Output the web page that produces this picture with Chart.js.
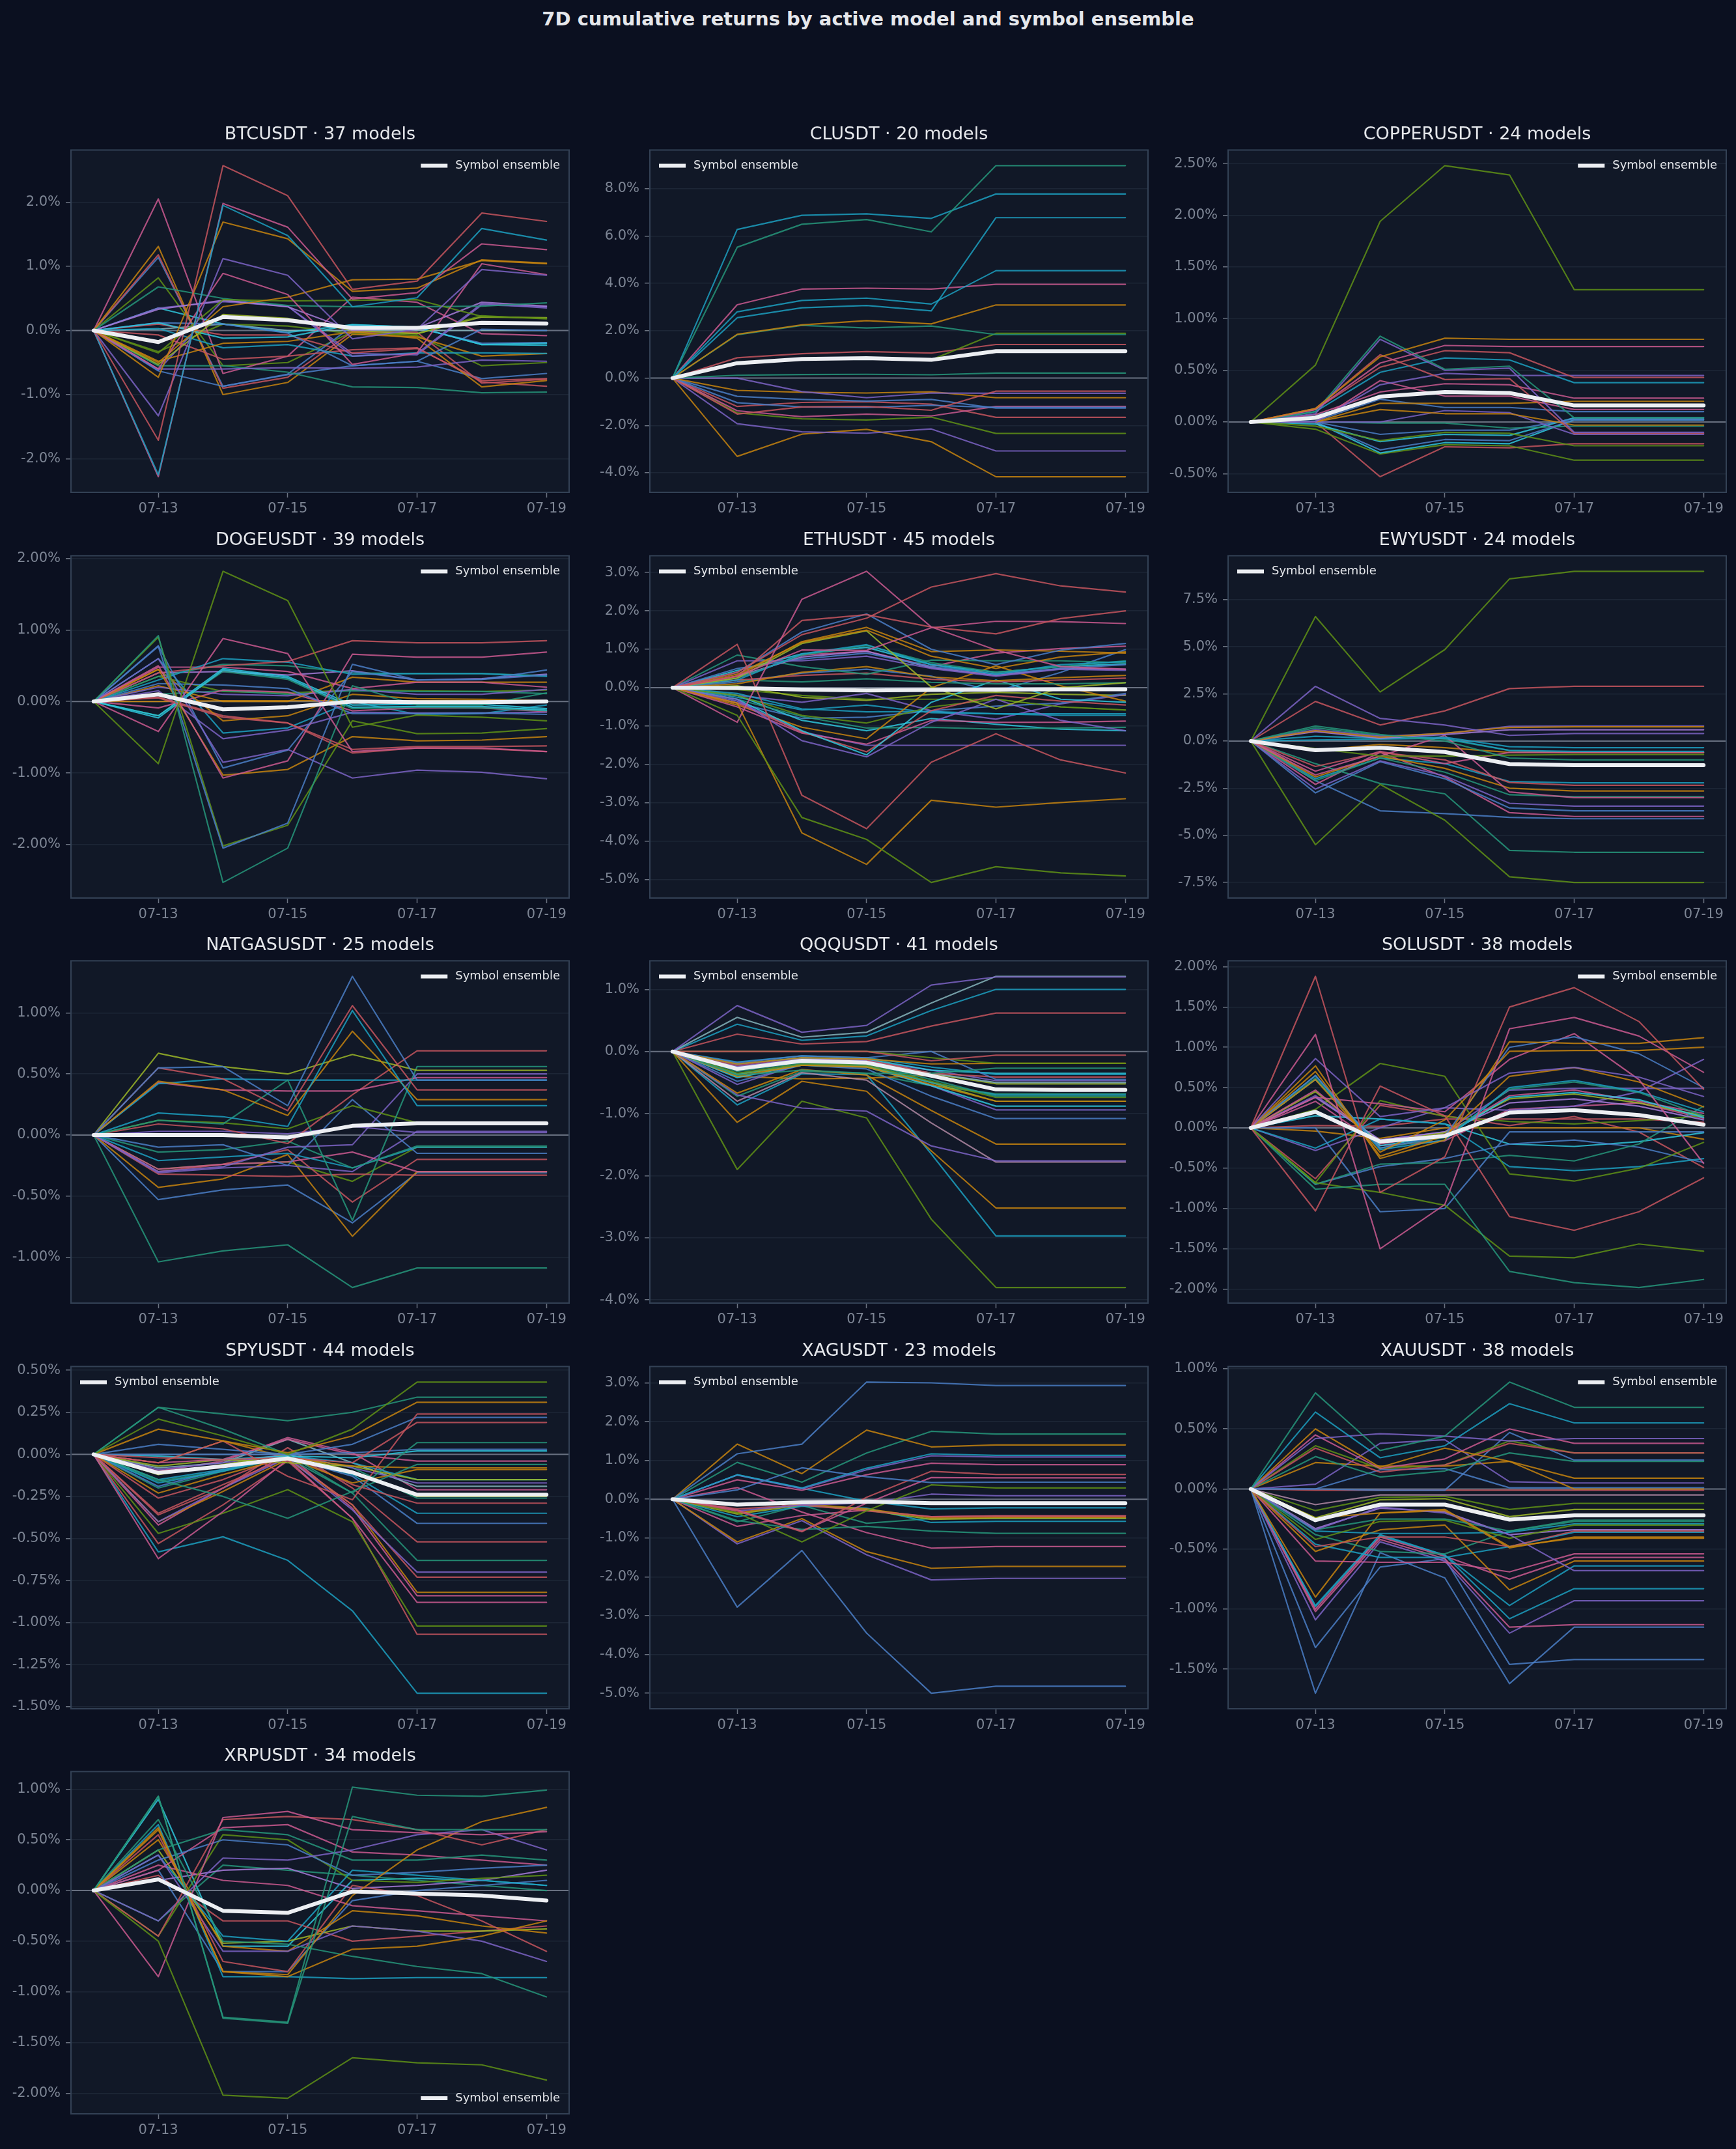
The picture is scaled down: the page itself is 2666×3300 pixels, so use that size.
<!DOCTYPE html>
<html>
<head>
<meta charset="utf-8">
<script src="https://cdn.jsdelivr.net/npm/chart.js@4.4.1/dist/chart.umd.min.js"></script>
<style>
  body { margin: 0; background: #0b1020; width: 2666px; height: 3300px; position: relative; overflow: hidden; }
  #suptitle { position: absolute; top: 12px; left: 0; width: 2666px; text-align: center; color: #e5e7eb;
              font: bold 29px 'DejaVu Sans', sans-serif; line-height: 34px; }
  .panel { position: absolute; width: 885px; height: 647px; }
</style>
</head>
<body>
<div id="suptitle">7D cumulative returns by active model and symbol ensemble</div>
<script>
// ---- data (cumulative return, %) ----
const dates = ['07-12', '07-13', '07-14', '07-15', '07-16', '07-17', '07-18', '07-19'];
const xTickDays = ['07-13', '07-15', '07-17', '07-19'];

const symbols = ['BTCUSDT', 'CLUSDT', 'COPPERUSDT', 'DOGEUSDT', 'ETHUSDT', 'EWYUSDT', 'NATGASUSDT',
                 'QQQUSDT', 'SOLUSDT', 'SPYUSDT', 'XAGUSDT', 'XAUUSDT', 'XRPUSDT'];
const modelCounts = [37, 20, 24, 39, 45, 24, 25, 41, 38, 44, 23, 38, 34];

const btcEnsemble = [0, -0.18, 0.21, 0.16, 0.04, 0.04, 0.12, 0.11];
const btcModels = [
  [0, -1.71, 2.57, 2.10, 0.64, 0.77, 1.83, 1.70],
  [0, -2.25, 1.95, 1.48, 0.37, 0.51, 1.59, 1.41],
  [0, -2.28, 1.98, 1.61, 0.49, 0.59, 1.35, 1.26],
  [0, -0.73, 1.69, 1.43, 0.61, 0.66, 1.10, 1.05],
  [0, -1.33, 1.12, 0.86, -0.13, 0.02, 0.95, 0.86],
  [0, -0.60, 0.89, 0.56, -0.53, -0.35, 1.04, 0.87],
  [0, -0.50, 0.37, 0.52, 0.79, 0.80, 1.09, 1.04],
  [0, -0.35, 0.48, 0.46, 0.47, 0.48, 0.22, 0.19],
  [0, 0.68, 0.50, 0.39, 0.37, 0.37, 0.38, 0.43],
  [0, 0.33, 0.47, 0.37, 0.00, 0.04, 0.44, 0.38],
  [0, 0.35, 0.45, 0.38, -0.40, -0.36, 0.42, 0.35],
  [0, -0.53, 0.25, 0.19, 0.00, -0.05, 0.21, 0.20],
  [0, 0.12, -0.12, -0.10, 0.09, 0.05, -0.22, -0.20],
  [0, 0.12, 0.10, -0.04, -0.55, -0.48, 0.02, 0.00],
  [0, 0.10, -0.07, -0.07, -0.35, -0.28, -0.78, -0.75],
  [0, -0.48, -0.20, -0.17, -0.02, -0.12, -0.88, -0.78],
  [0, 0.03, -0.27, -0.22, -0.40, -0.35, -0.35, -0.36],
  [0, -0.60, -0.60, -0.58, -0.59, -0.57, -0.46, -0.48],
  [0, -0.55, -0.55, -0.65, -0.88, -0.89, -0.97, -0.96],
  [0, -0.63, -0.87, -0.69, -0.55, -0.48, -0.75, -0.67],
  [0, -0.07, -0.45, -0.40, -0.30, -0.27, -0.80, -0.87],
  [0, 1.31, -1.00, -0.81, -0.06, -0.10, -0.40, -0.36],
  [0, 1.18, -0.90, -0.73, -0.02, -0.03, -0.82, -0.76],
  [0, 1.14, -0.87, -0.68, 0.07, 0.04, -0.20, -0.19],
  [0, 2.05, -0.67, -0.40, 0.52, 0.44, -0.05, -0.08],
  [0, 0.82, -0.55, -0.50, -0.02, -0.08, -0.55, -0.50],
  [0, 0.35, 0.10, -0.03, 0.09, 0.05, -0.22, -0.23],
  [0, 0.02, 0.10, 0.00, 0.00, 0.00, 0.00, 0.00],
  [0, -0.62, 0.47, 0.38, -0.36, -0.38, 0.40, 0.37],
  [0, -0.33, 0.10, 0.07, -0.05, -0.05, 0.23, 0.18]
];
const btcTicks = ['-2.0%', '-1.0%', '0.0%', '1.0%', '2.0%'];

const clEnsemble = [0, 0.63, 0.81, 0.84, 0.77, 1.14, 1.14, 1.14];
const clModels = [
  [0, 5.53, 6.50, 6.70, 6.18, 8.98, 8.98, 8.98],
  [0, 6.28, 6.88, 6.94, 6.75, 7.78, 7.78, 7.78],
  [0, 2.55, 2.97, 3.07, 2.84, 6.78, 6.78, 6.78],
  [0, 2.80, 3.28, 3.38, 3.13, 4.54, 4.54, 4.54],
  [0, 3.10, 3.76, 3.80, 3.76, 3.96, 3.96, 3.96],
  [0, 1.85, 2.25, 2.43, 2.29, 3.09, 3.09, 3.09],
  [0, 1.83, 2.23, 2.12, 2.20, 1.84, 1.84, 1.84],
  [0, 0.60, 0.78, 0.82, 0.77, 1.89, 1.89, 1.89],
  [0, 0.86, 1.03, 1.12, 1.06, 1.42, 1.42, 1.42],
  [0, 0.12, 0.15, 0.16, 0.14, 0.21, 0.21, 0.21],
  [0, -1.52, -1.22, -1.20, -1.36, -0.55, -0.55, -0.55],
  [0, 0.00, -0.57, -0.83, -0.63, -0.64, -0.64, -0.64],
  [0, -0.52, -0.60, -0.63, -0.58, -0.83, -0.83, -0.83],
  [0, -0.77, -0.90, -0.97, -0.90, -1.27, -1.27, -1.27],
  [0, -1.04, -1.22, -1.24, -1.15, -1.24, -1.24, -1.24],
  [0, -1.38, -1.63, -1.52, -1.60, -1.20, -1.20, -1.20],
  [0, -1.20, -1.03, -1.00, -1.10, -1.66, -1.66, -1.66],
  [0, -1.47, -1.72, -1.77, -1.65, -2.34, -2.34, -2.34],
  [0, -1.93, -2.27, -2.33, -2.15, -3.08, -3.08, -3.08],
  [0, -3.31, -2.37, -2.17, -2.69, -4.17, -4.17, -4.17]
];
const clTicks = ['-4.0%', '-2.0%', '0.0%', '2.0%', '4.0%', '6.0%', '8.0%'];

const copperEnsemble = [0, 0.04, 0.245, 0.29, 0.28, 0.16, 0.16, 0.16];
const copperModels = [
  [0, 0.55, 1.94, 2.48, 2.39, 1.28, 1.28, 1.28],
  [0, 0.13, 0.63, 0.81, 0.80, 0.80, 0.80, 0.80],
  [0, 0.12, 0.57, 0.74, 0.73, 0.73, 0.73, 0.73],
  [0, 0.10, 0.83, 0.51, 0.54, 0.04, 0.04, 0.04],
  [0, 0.08, 0.80, 0.50, 0.52, -0.10, -0.10, -0.10],
  [0, 0.13, 0.65, 0.41, 0.42, -0.11, -0.11, -0.11],
  [0, 0.12, 0.53, 0.69, 0.67, 0.43, 0.43, 0.43],
  [0, 0.10, 0.48, 0.62, 0.60, 0.38, 0.38, 0.38],
  [0, 0.00, 0.36, 0.47, 0.45, 0.45, 0.45, 0.45],
  [0, 0.07, 0.29, 0.37, 0.36, 0.23, 0.23, 0.23],
  [0, 0.00, 0.40, 0.25, 0.25, 0.12, 0.12, 0.12],
  [0, 0.00, 0.18, 0.18, 0.18, 0.20, 0.20, 0.20],
  [0, 0.01, 0.22, 0.14, 0.14, 0.10, 0.10, 0.10],
  [0, 0.00, 0.12, 0.08, 0.08, -0.03, -0.03, -0.03],
  [0, 0.00, 0.00, 0.11, 0.09, -0.12, -0.12, -0.12],
  [0, 0.00, -0.01, -0.01, -0.06, -0.04, -0.04, -0.04],
  [0, 0.00, -0.12, -0.08, -0.08, 0.03, 0.03, 0.03],
  [0, -0.04, -0.18, -0.10, -0.11, -0.23, -0.23, -0.23],
  [0, -0.02, -0.19, -0.12, -0.13, 0.04, 0.04, 0.04],
  [0, 0.00, -0.27, -0.17, -0.18, 0.02, 0.02, 0.02],
  [0, 0.00, -0.30, -0.20, -0.21, 0.02, 0.02, 0.02],
  [0, -0.07, -0.31, -0.22, -0.23, -0.37, -0.37, -0.37],
  [0, 0.00, -0.53, -0.24, -0.25, -0.21, -0.21, -0.21],
  [0, 0.06, 0.24, 0.29, 0.28, 0.16, 0.16, 0.16]
];
const copperTicks = ['-0.50%', '0.00%', '0.50%', '1.00%', '1.50%', '2.00%', '2.50%'];

const dogeEnsemble = [0, 0.10, -0.11, -0.08, 0.00, -0.01, -0.01, 0.00];
const dogeModels = [
  [0, -0.87, 1.82, 1.41, -0.36, -0.19, -0.22, -0.27],
  [0, -0.42, 0.88, 0.67, -0.70, -0.65, -0.65, -0.70],
  [0, 0.05, -0.22, -0.30, -0.67, -0.63, -0.63, -0.62],
  [0, 0.92, -2.53, -2.05, 0.22, -0.05, -0.05, 0.12],
  [0, 0.77, -2.05, -1.70, 0.52, 0.30, 0.31, 0.44],
  [0, 0.90, -2.02, -1.73, -0.27, -0.45, -0.44, -0.38],
  [0, 0.60, -0.85, -0.67, -1.07, -0.96, -0.99, -1.08],
  [0, 0.78, -0.93, -0.68, 0.42, 0.30, 0.31, 0.37],
  [0, 0.50, -1.07, -0.83, 0.66, 0.62, 0.62, 0.69],
  [0, 0.45, -1.03, -0.95, -0.49, -0.55, -0.54, -0.49],
  [0, 0.40, 0.50, 0.56, 0.85, 0.82, 0.82, 0.85],
  [0, 0.30, 0.60, 0.55, 0.38, 0.39, 0.39, 0.35],
  [0, 0.35, 0.52, 0.50, 0.40, 0.39, 0.39, 0.36],
  [0, -0.20, 0.46, 0.35, -0.05, -0.04, -0.04, -0.10],
  [0, -0.23, 0.44, 0.33, -0.08, -0.07, -0.07, -0.12],
  [0, -0.20, 0.42, 0.31, -0.10, -0.08, -0.09, -0.13],
  [0, 0.48, 0.48, 0.42, 0.18, 0.27, 0.27, 0.20],
  [0, 0.40, 0.42, 0.37, 0.43, 0.30, 0.32, 0.38],
  [0, 0.25, 0.23, 0.18, -0.17, -0.17, -0.16, -0.18],
  [0, 0.20, 0.10, 0.08, 0.17, 0.10, 0.10, 0.17],
  [0, 0.22, 0.00, 0.00, 0.34, 0.27, 0.27, 0.27],
  [0, 0.45, -0.27, -0.20, 0.10, 0.04, 0.03, 0.01],
  [0, 0.06, -0.20, -0.30, -0.72, -0.65, -0.66, -0.70],
  [0, -0.09, 0.16, 0.13, -0.13, -0.09, -0.09, -0.14],
  [0, 0.10, 0.15, 0.10, 0.15, 0.14, 0.14, 0.11],
  [0, 0.15, -0.52, -0.40, -0.15, -0.16, -0.16, -0.15],
  [0, 0.60, -0.44, -0.37, 0.00, -0.18, -0.17, -0.05],
  [0, 0.35, 0.14, 0.12, 0.16, 0.15, 0.14, 0.16],
  [0, 0.00, 0.01, 0.01, 0.01, 0.01, 0.01, 0.01]
];
const dogeTicks = ['-2.00%', '-1.00%', '0.00%', '1.00%', '2.00%'];

const ethEnsemble = [0, -0.01, -0.05, -0.07, -0.06, -0.05, -0.04, -0.04];
const ethModels = [
  [0, 1.13, -2.80, -3.67, -1.94, -1.20, -1.88, -2.22],
  [0, -0.72, -3.38, -3.95, -5.07, -4.66, -4.82, -4.90],
  [0, -0.40, -3.78, -4.60, -2.93, -3.11, -2.99, -2.89],
  [0, -0.90, 2.30, 3.03, 1.58, 0.98, 0.55, 0.48],
  [0, 0.40, 1.38, 1.81, 2.62, 2.97, 2.65, 2.49],
  [0, 0.30, 1.75, 1.90, 1.58, 1.40, 1.80, 2.00],
  [0, 0.30, 0.98, 0.97, 1.56, 1.73, 1.72, 1.67],
  [0, 0.40, 1.45, 1.92, 1.00, 0.60, 0.98, 1.15],
  [0, 0.30, 1.20, 1.57, 0.94, 0.98, 0.95, 0.90],
  [0, 0.35, 1.18, 1.50, 0.82, 0.50, 0.80, 0.93],
  [0, 0.25, 1.15, 1.48, 0.02, -0.55, 0.00, 0.13],
  [0, 0.20, 0.88, 1.12, 0.60, 0.35, 0.60, 0.68],
  [0, 0.25, 0.85, 1.10, 0.65, 0.40, 0.55, 0.70],
  [0, 0.70, 0.70, 0.82, 0.50, 0.30, 0.48, 0.45],
  [0, 0.50, 0.75, 0.90, 0.55, 0.36, 0.50, 0.60],
  [0, 0.30, 0.80, 0.95, 0.52, 0.32, 0.50, 0.48],
  [0, 0.85, 0.55, 0.35, 0.72, 0.70, 0.70, 0.65],
  [0, 0.10, 0.40, 0.55, 0.28, 0.18, 0.26, 0.32],
  [0, 0.20, 0.32, 0.38, 0.22, 0.15, 0.20, 0.25],
  [0, 0.20, 0.15, 0.23, 0.14, 0.10, 0.10, 0.13],
  [0, -0.30, -1.38, -1.80, -0.90, -0.30, -0.85, -1.12],
  [0, -0.30, -1.12, -1.75, -0.38, 0.20, -0.30, -0.38],
  [0, -0.40, -1.15, -1.67, -0.60, -0.20, -0.35, -0.45],
  [0, -0.50, -1.18, -1.47, -0.85, -0.90, -0.90, -0.87],
  [0, -0.35, -1.15, -1.50, -1.50, -1.50, -1.50, -1.50],
  [0, -0.45, -1.03, -1.33, 0.00, 0.57, 0.05, -0.35],
  [0, -0.20, -0.72, -0.92, -0.50, -0.30, -0.50, -0.58],
  [0, -0.30, -0.75, -1.05, -1.03, -1.08, -1.05, -1.03],
  [0, -0.20, -0.85, -1.12, -0.80, -0.95, -1.08, -1.12],
  [0, -0.15, -0.55, -0.63, -0.62, -0.68, -0.68, -0.68],
  [0, -0.25, -0.58, -0.45, -0.65, -0.68, -0.72, -0.72],
  [0, -0.40, -0.80, -0.77, -0.60, -0.48, -0.40, -0.15],
  [0, -0.20, -0.38, -0.15, -0.60, -0.82, -0.42, -0.18],
  [0, 0.05, -0.25, -0.33, -0.17, -0.12, -0.17, -0.20],
  [0, -0.05, -0.20, -0.30, -0.30, -0.30, -0.50, -0.58],
  [0, 0.15, 0.38, 0.48, 0.30, -0.10, 0.40, 0.99],
  [0, 0.25, 0.85, 0.95, 0.55, 0.90, 1.02, 1.08],
  [0, 0.45, 0.88, 1.05, 0.60, 0.40, 0.55, 0.62]
];
const ethTicks = ['-5.0%', '-4.0%', '-3.0%', '-2.0%', '-1.0%', '0.0%', '1.0%', '2.0%', '3.0%'];

const ewyEnsemble = [0, -0.49, -0.36, -0.58, -1.22, -1.28, -1.28, -1.28];
const ewyModels = [
  [0, 6.60, 2.60, 4.85, 8.60, 9.00, 9.00, 9.00],
  [0, -5.50, -2.30, -4.20, -7.20, -7.50, -7.50, -7.50],
  [0, 2.90, 1.20, 0.85, 0.30, 0.40, 0.40, 0.40],
  [0, 2.10, 0.85, 1.60, 2.78, 2.90, 2.90, 2.90],
  [0, 0.80, 0.35, 0.00, -0.90, -1.00, -1.00, -1.00],
  [0, 0.55, 0.20, 0.42, 0.72, 0.75, 0.75, 0.75],
  [0, 0.60, 0.25, 0.40, 0.78, 0.80, 0.80, 0.80],
  [0, 0.50, 0.15, 0.35, 0.60, 0.60, 0.60, 0.60],
  [0, 0.25, 0.15, 0.20, -0.30, -0.35, -0.35, -0.35],
  [0, 0.05, 0.10, 0.15, -0.50, -0.55, -0.55, -0.55],
  [0, -0.40, -0.80, -0.80, -0.75, -0.72, -0.72, -0.72],
  [0, -1.35, -0.60, -1.00, -2.20, -2.35, -2.35, -2.35],
  [0, -1.60, -0.55, -1.20, -0.60, -0.60, -0.60, -0.60],
  [0, -1.80, -0.80, 0.30, -2.70, -3.00, -3.00, -3.00],
  [0, -1.90, -0.80, -1.45, -2.50, -2.65, -2.65, -2.65],
  [0, -2.10, -0.90, -1.65, -2.85, -2.95, -2.95, -2.95],
  [0, -2.55, -1.05, -1.85, -3.30, -3.45, -3.45, -3.45],
  [0, -2.75, -1.10, -2.00, -3.55, -3.70, -3.70, -3.70],
  [0, -2.30, -0.60, -1.90, -3.80, -4.00, -4.00, -4.00],
  [0, -2.10, -3.70, -3.85, -4.05, -4.12, -4.12, -4.12],
  [0, -1.20, -2.25, -2.80, -5.80, -5.90, -5.90, -5.90],
  [0, -2.00, -0.90, -1.20, -2.15, -2.22, -2.22, -2.22],
  [0, -0.50, -0.18, -0.35, -0.60, -0.62, -0.62, -0.62],
  [0, 0.70, 0.30, 0.10, -0.50, -0.60, -0.60, -0.60]
];
const ewyTicks = ['-7.5%', '-5.0%', '-2.5%', '0.0%', '2.5%', '5.0%', '7.5%'];

const natgasEnsemble = [0, 0.00, 0.00, -0.02, 0.075, 0.095, 0.095, 0.095];
const natgasModels = [
  [0, 0.55, 0.56, 0.24, 1.30, 0.45, 0.45, 0.45],
  [0, 0.55, 0.46, 0.20, 1.06, 0.37, 0.37, 0.37],
  [0, 0.18, 0.15, 0.07, 1.02, 0.24, 0.24, 0.24],
  [0, 0.44, 0.37, 0.16, 0.85, 0.29, 0.29, 0.29],
  [0, 0.67, 0.56, 0.50, 0.66, 0.53, 0.53, 0.53],
  [0, 0.12, 0.09, 0.45, -0.70, 0.56, 0.56, 0.56],
  [0, 0.42, 0.46, 0.45, 0.45, 0.45, 0.45, 0.45],
  [0, 0.43, 0.37, 0.36, 0.36, 0.47, 0.47, 0.47],
  [0, 0.09, 0.05, -0.07, 0.33, 0.69, 0.69, 0.69],
  [0, 0.12, 0.10, 0.05, 0.24, 0.10, 0.10, 0.10],
  [0, 0.03, 0.03, 0.01, 0.07, 0.02, 0.02, 0.02],
  [0, -0.30, -0.26, -0.10, -0.08, 0.50, 0.50, 0.50],
  [0, -0.10, -0.08, -0.25, 0.29, -0.15, -0.15, -0.15],
  [0, -0.14, -0.12, -0.05, -0.27, -0.09, -0.09, -0.09],
  [0, -0.21, -0.18, -0.15, -0.27, -0.10, -0.10, -0.10],
  [0, -0.28, -0.24, -0.22, -0.14, -0.30, -0.30, -0.30],
  [0, -0.31, -0.27, -0.25, -0.30, 0.03, 0.03, 0.03],
  [0, -0.32, -0.33, -0.34, -0.32, -0.33, -0.33, -0.33],
  [0, -0.43, -0.36, -0.16, -0.83, -0.30, -0.30, -0.30],
  [0, -0.53, -0.45, -0.41, -0.72, -0.31, -0.31, -0.31],
  [0, -0.30, -0.24, -0.12, -0.55, -0.20, -0.20, -0.20],
  [0, -1.04, -0.95, -0.90, -1.25, -1.09, -1.09, -1.09],
  [0, -0.28, -0.24, -0.22, -0.38, -0.10, -0.10, -0.10]
];
const natgasTicks = ['-1.00%', '-0.50%', '0.00%', '0.50%', '1.00%'];

const qqqEnsemble = [0, -0.28, -0.15, -0.18, -0.39, -0.61, -0.62, -0.62];
const qqqModels = [
  [0, 0.74, 0.31, 0.42, 1.07, 1.20, 1.20, 1.20],
  [0, 0.55, 0.23, 0.31, 0.78, 1.21, 1.21, 1.21],
  [0, 0.44, 0.18, 0.25, 0.66, 1.00, 1.00, 1.00],
  [0, 0.28, 0.12, 0.16, 0.41, 0.62, 0.62, 0.62],
  [0, 0.00, 0.00, 0.00, -0.15, -0.06, -0.06, -0.06],
  [0, 0.00, 0.00, 0.00, -0.10, -0.19, -0.19, -0.19],
  [0, -0.20, -0.10, -0.12, -0.20, -0.19, -0.19, -0.19],
  [0, -0.38, -0.30, -0.35, -0.35, -0.27, -0.27, -0.27],
  [0, -0.18, -0.07, -0.10, 0.00, -0.45, -0.45, -0.45],
  [0, -0.17, -0.07, -0.10, -0.25, -0.37, -0.37, -0.37],
  [0, -0.20, -0.10, -0.12, -0.30, -0.35, -0.35, -0.35],
  [0, -0.22, -0.10, -0.13, -0.35, -0.41, -0.41, -0.41],
  [0, -0.24, -0.12, -0.15, -0.30, -0.47, -0.47, -0.47],
  [0, -0.25, -0.12, -0.15, -0.35, -0.50, -0.50, -0.50],
  [0, -0.27, -0.14, -0.17, -0.36, -0.52, -0.52, -0.52],
  [0, -0.25, -0.12, -0.14, -0.40, -0.60, -0.60, -0.60],
  [0, -0.32, -0.18, -0.20, -0.45, -0.72, -0.72, -0.72],
  [0, -0.35, -0.20, -0.22, -0.48, -0.74, -0.74, -0.74],
  [0, -0.36, -0.20, -0.22, -0.50, -0.70, -0.70, -0.70],
  [0, -0.40, -0.22, -0.25, -0.53, -0.80, -0.80, -0.80],
  [0, -0.37, -0.22, -0.24, -0.50, -0.80, -0.80, -0.80],
  [0, -0.42, -0.22, -0.25, -0.55, -0.88, -0.88, -0.88],
  [0, -0.53, -0.20, -0.22, -0.55, -0.94, -0.94, -0.94],
  [0, -0.48, -0.22, -0.28, -0.72, -1.08, -1.08, -1.08],
  [0, -0.67, -0.29, -0.38, -0.95, -1.49, -1.49, -1.49],
  [0, -0.70, -0.91, -0.96, -1.52, -1.76, -1.76, -1.76],
  [0, -0.80, -0.34, -0.46, -1.15, -1.78, -1.78, -1.78],
  [0, -1.14, -0.48, -0.64, -1.60, -2.52, -2.52, -2.52],
  [0, -0.86, -0.36, -0.37, -1.65, -2.97, -2.97, -2.97],
  [0, -1.90, -0.80, -1.07, -2.70, -3.80, -3.80, -3.80],
  [0, -0.40, -0.44, -0.43, -0.38, -0.60, -0.60, -0.60],
  [0, -0.72, -0.32, -0.35, -0.55, -0.68, -0.68, -0.68]
];
const qqqTicks = ['-4.0%', '-3.0%', '-2.0%', '-1.0%', '0.0%', '1.0%'];

const solEnsemble = [0, 0.20, -0.17, -0.10, 0.19, 0.22, 0.16, 0.04];
const solModels = [
  [0, 1.88, -0.80, -0.36, 1.50, 1.74, 1.32, 0.48],
  [0, 1.16, -1.50, -0.95, 1.23, 1.37, 1.14, 0.69],
  [0, -1.03, 0.52, 0.15, -1.10, -1.27, -1.04, -0.62],
  [0, 0.86, 0.14, 0.25, 0.68, 0.75, 0.63, 0.39],
  [0, 0.77, -0.38, -0.15, 1.07, 1.05, 1.05, 1.12],
  [0, 0.60, -0.30, 0.10, 0.95, 0.96, 0.96, 1.00],
  [0, 0.65, -0.25, -0.10, 1.00, 1.13, 0.92, 0.50],
  [0, 0.38, 0.30, 0.20, 0.85, 1.17, 0.60, -0.44],
  [0, 0.70, -0.35, -0.10, 0.64, 0.75, 0.57, 0.26],
  [0, 0.65, -0.27, -0.15, 0.50, 0.59, 0.45, 0.20],
  [0, 0.62, -0.25, -0.12, 0.48, 0.57, 0.44, 0.15],
  [0, 0.60, -0.22, -0.10, 0.38, 0.44, 0.35, 0.13],
  [0, 0.47, -0.20, -0.08, 0.40, 0.47, 0.33, 0.18],
  [0, 0.45, -0.18, -0.06, 0.36, 0.42, 0.31, 0.15],
  [0, 0.38, -0.15, -0.05, 0.31, 0.36, 0.27, 0.10],
  [0, 0.40, -0.15, -0.05, 0.47, 0.49, 0.49, 0.49],
  [0, 0.23, 0.80, 0.64, -0.57, -0.66, -0.50, -0.18],
  [0, -0.68, 0.34, 0.14, 0.08, 0.05, 0.09, 0.15],
  [0, -0.76, -0.70, -0.70, -1.78, -1.92, -1.98, -1.88],
  [0, -0.68, -0.80, -0.96, -1.59, -1.61, -1.44, -1.53],
  [0, 0.00, -1.04, -1.00, -0.05, -0.05, -0.05, -0.05],
  [0, -0.25, 0.11, 0.05, -0.48, -0.53, -0.48, -0.38],
  [0, -0.70, -0.45, -0.43, -0.34, -0.41, -0.20, 0.27],
  [0, -0.70, -0.48, -0.38, -0.20, -0.15, -0.24, -0.43],
  [0, 0.15, 0.11, 0.05, -0.20, -0.23, -0.17, -0.06],
  [0, -0.28, 0.00, 0.25, 0.22, 0.27, 0.45, 0.85],
  [0, 0.03, 0.02, 0.11, 0.11, 0.11, 0.11, 0.07],
  [0, -0.04, -0.13, 0.00, 0.00, 0.00, 0.00, -0.14],
  [0, -0.63, 0.28, 0.15, 0.03, 0.14, -0.05, -0.49],
  [0, 0.33, -0.22, -0.16, 0.23, 0.27, 0.31, 0.12]
];
const solTicks = ['-2.00%', '-1.50%', '-1.00%', '-0.50%', '0.00%', '0.50%', '1.00%', '1.50%', '2.00%'];

const spyEnsemble = [0, -0.11, -0.07, -0.024, -0.107, -0.24, -0.24, -0.24];
const spyModels = [
  [0, 0.21, 0.11, 0.00, 0.15, 0.43, 0.43, 0.43],
  [0, 0.28, 0.24, 0.20, 0.25, 0.34, 0.34, 0.34],
  [0, 0.15, 0.08, 0.01, 0.11, 0.31, 0.31, 0.31],
  [0, -0.05, 0.08, -0.13, -0.27, 0.24, 0.24, 0.24],
  [0, 0.06, 0.03, 0.00, 0.06, 0.22, 0.22, 0.22],
  [0, -0.02, -0.03, -0.02, -0.05, 0.19, 0.19, 0.19],
  [0, 0.28, 0.15, 0.00, -0.23, 0.07, 0.07, 0.07],
  [0, 0.00, 0.00, 0.00, 0.01, 0.03, 0.03, 0.03],
  [0, -0.01, -0.03, -0.01, -0.02, 0.02, 0.02, 0.02],
  [0, -0.05, -0.03, 0.09, 0.00, -0.04, -0.04, -0.04],
  [0, -0.15, -0.25, -0.38, -0.22, -0.06, -0.06, -0.06],
  [0, -0.05, 0.08, -0.02, -0.17, -0.09, -0.09, -0.09],
  [0, -0.23, -0.12, -0.02, -0.07, -0.08, -0.08, -0.08],
  [0, -0.07, -0.03, -0.05, -0.07, -0.15, -0.15, -0.15],
  [0, -0.17, -0.10, -0.01, -0.05, -0.15, -0.15, -0.15],
  [0, -0.09, -0.05, 0.00, -0.08, -0.17, -0.17, -0.17],
  [0, -0.08, -0.05, 0.09, -0.05, -0.19, -0.19, -0.19],
  [0, -0.10, -0.04, 0.10, 0.01, -0.21, -0.21, -0.21],
  [0, -0.26, -0.15, 0.00, -0.18, -0.29, -0.29, -0.29],
  [0, -0.15, -0.09, -0.02, -0.12, -0.35, -0.35, -0.35],
  [0, -0.19, -0.09, -0.02, -0.13, -0.41, -0.41, -0.41],
  [0, -0.36, -0.20, 0.04, -0.20, -0.52, -0.52, -0.52],
  [0, -0.16, -0.10, -0.02, -0.23, -0.63, -0.63, -0.63],
  [0, -0.40, -0.20, -0.02, -0.33, -0.70, -0.70, -0.70],
  [0, -0.35, -0.18, -0.02, -0.30, -0.73, -0.73, -0.73],
  [0, -0.40, -0.22, -0.03, -0.30, -0.82, -0.82, -0.82],
  [0, -0.42, -0.20, 0.00, -0.32, -0.84, -0.84, -0.84],
  [0, -0.62, -0.34, -0.03, -0.38, -0.88, -0.88, -0.88],
  [0, -0.47, -0.35, -0.21, -0.40, -1.02, -1.02, -1.02],
  [0, -0.53, -0.30, -0.04, -0.38, -1.07, -1.07, -1.07],
  [0, -0.58, -0.49, -0.63, -0.93, -1.42, -1.42, -1.42],
  [0, -0.20, -0.10, 0.00, -0.08, -0.26, -0.26, -0.26],
  [0, -0.12, -0.06, 0.00, -0.10, -0.25, -0.25, -0.25]
];
const spyTicks = ['-1.50%', '-1.25%', '-1.00%', '-0.75%', '-0.50%', '-0.25%', '0.00%', '0.25%', '0.50%'];

const xagEnsemble = [0, -0.14, -0.08, -0.06, -0.10, -0.10, -0.10, -0.10];
const xagModels = [
  [0, 1.17, 1.42, 3.02, 3.00, 2.93, 2.93, 2.93],
  [0, 0.24, 0.81, 0.58, 0.43, 0.44, 0.44, 0.44],
  [0, -2.78, -1.32, -3.45, -5.00, -4.82, -4.82, -4.82],
  [0, 1.42, 0.66, 1.78, 1.35, 1.40, 1.40, 1.40],
  [0, 0.95, 0.44, 1.19, 1.75, 1.68, 1.68, 1.68],
  [0, 0.63, 0.29, 0.80, 1.17, 1.13, 1.13, 1.13],
  [0, 0.62, 0.27, 0.76, 1.12, 1.09, 1.09, 1.09],
  [0, 0.50, 0.23, 0.63, 0.93, 0.89, 0.89, 0.89],
  [0, -0.30, -0.84, 0.05, 0.72, 0.64, 0.64, 0.64],
  [0, -0.28, -0.82, -0.10, 0.56, 0.55, 0.55, 0.55],
  [0, -0.35, -1.10, -0.30, 0.37, 0.29, 0.29, 0.29],
  [0, -0.30, -0.15, -0.10, 0.13, 0.09, 0.09, 0.09],
  [0, 0.63, 0.28, -0.05, -0.25, -0.22, -0.22, -0.22],
  [0, -0.25, -0.15, -0.30, -0.45, -0.43, -0.43, -0.43],
  [0, -0.35, -0.12, -0.25, -0.48, -0.47, -0.47, -0.47],
  [0, -0.38, -0.15, -0.28, -0.52, -0.49, -0.49, -0.49],
  [0, -0.45, -0.18, -0.23, -0.60, -0.57, -0.57, -0.57],
  [0, -0.55, -0.78, -0.70, -0.82, -0.88, -0.88, -0.88],
  [0, 0.30, -0.33, -0.86, -1.26, -1.22, -1.22, -1.22],
  [0, -0.70, -0.42, -0.28, -0.45, -0.43, -0.43, -0.43],
  [0, -1.10, -0.50, -1.35, -1.78, -1.73, -1.73, -1.73],
  [0, -1.15, -0.55, -1.43, -2.08, -2.04, -2.04, -2.04],
  [0, -0.58, -0.16, -0.62, -0.50, -0.50, -0.50, -0.50]
];
const xagTicks = ['-5.0%', '-4.0%', '-3.0%', '-2.0%', '-1.0%', '0.0%', '1.0%', '2.0%', '3.0%'];

const xauEnsemble = [0, -0.26, -0.13, -0.13, -0.255, -0.22, -0.22, -0.22];
const xauModels = [
  [0, 0.80, 0.32, 0.44, 0.89, 0.68, 0.68, 0.68],
  [0, 0.64, 0.26, 0.36, 0.71, 0.55, 0.55, 0.55],
  [0, 0.42, 0.46, 0.44, 0.40, 0.42, 0.42, 0.42],
  [0, 0.50, 0.18, 0.34, 0.23, 0.00, 0.00, 0.00],
  [0, 0.45, 0.17, 0.25, 0.50, 0.38, 0.38, 0.38],
  [0, 0.34, 0.14, 0.20, 0.38, 0.30, 0.30, 0.30],
  [0, 0.36, 0.17, 0.20, 0.40, 0.30, 0.30, 0.30],
  [0, 0.27, 0.10, 0.15, 0.30, 0.23, 0.23, 0.23],
  [0, 0.00, 0.16, 0.17, 0.01, 0.01, 0.01, 0.01],
  [0, 0.00, -0.01, -0.01, 0.47, 0.24, 0.24, 0.24],
  [0, 0.04, 0.38, 0.41, 0.06, 0.05, 0.05, 0.05],
  [0, 0.22, 0.19, 0.19, 0.23, 0.09, 0.09, 0.09],
  [0, -0.13, -0.05, -0.05, -0.05, -0.05, -0.05, -0.05],
  [0, -0.18, -0.07, -0.06, -0.17, -0.12, -0.12, -0.12],
  [0, -0.24, -0.09, -0.08, -0.23, -0.17, -0.17, -0.17],
  [0, -0.24, -0.20, -0.17, -0.48, -0.41, -0.41, -0.41],
  [0, -0.34, -0.15, -0.20, -0.38, -0.68, -0.68, -0.68],
  [0, -0.34, -0.25, -0.25, -0.35, -0.27, -0.27, -0.27],
  [0, -0.42, -0.27, -0.26, -0.41, -0.30, -0.30, -0.30],
  [0, -0.35, -0.37, -0.37, -0.36, -0.29, -0.29, -0.29],
  [0, -0.48, -0.40, -0.40, -0.48, -0.35, -0.35, -0.35],
  [0, -0.52, -0.34, -0.30, -0.84, -0.60, -0.60, -0.60],
  [0, -0.46, -0.57, -0.57, -0.48, -0.36, -0.36, -0.36],
  [0, -0.38, -0.52, -0.54, -0.35, -0.26, -0.26, -0.26],
  [0, -0.60, -0.61, -0.61, -0.69, -0.54, -0.54, -0.54],
  [0, -0.90, -0.20, -0.18, -0.49, -0.40, -0.40, -0.40],
  [0, -0.97, -0.38, -0.55, -0.97, -0.64, -0.64, -0.64],
  [0, -1.00, -0.40, -0.56, -0.75, -0.57, -0.57, -0.57],
  [0, -1.02, -0.42, -0.58, -1.15, -1.13, -1.13, -1.13],
  [0, -1.09, -0.44, -0.60, -1.20, -0.93, -0.93, -0.93],
  [0, -0.98, -0.39, -0.55, -1.08, -0.83, -0.83, -0.83],
  [0, -1.32, -0.65, -0.58, -1.46, -1.42, -1.42, -1.42],
  [0, -1.70, -0.53, -0.74, -1.62, -1.15, -1.15, -1.15],
  [0, -0.01, -0.01, -0.01, -0.01, -0.01, -0.01, -0.01],
  [0, -0.33, -0.16, -0.19, -0.38, -0.34, -0.34, -0.34]
];
const xauTicks = ['-1.50%', '-1.00%', '-0.50%', '0.00%', '0.50%', '1.00%'];

const xrpEnsemble = [0, 0.11, -0.20, -0.22, -0.01, -0.03, -0.05, -0.10];
const xrpModels = [
  [0, 0.93, -1.25, -1.30, 1.02, 0.94, 0.93, 0.99],
  [0, 0.93, -1.26, -1.31, 0.73, 0.60, 0.60, 0.60],
  [0, -0.50, -2.02, -2.05, -1.65, -1.70, -1.72, -1.87],
  [0, 0.60, -0.80, -0.85, -0.58, -0.55, -0.45, -0.30],
  [0, -0.85, 0.72, 0.78, 0.60, 0.57, 0.55, 0.58],
  [0, -0.45, 0.70, 0.73, 0.70, 0.60, 0.45, 0.60],
  [0, -0.30, 0.32, 0.30, 0.40, 0.55, 0.60, 0.40],
  [0, 0.62, -0.80, -0.83, -0.05, 0.40, 0.68, 0.82],
  [0, 0.70, -0.50, -0.53, -0.65, -0.75, -0.82, -1.05],
  [0, 0.65, -0.85, -0.85, -0.87, -0.86, -0.86, -0.86],
  [0, 0.55, -0.70, -0.80, 0.05, -0.05, -0.30, -0.60],
  [0, 0.35, -0.60, -0.60, -0.35, -0.40, -0.50, -0.70],
  [0, 0.30, 0.50, 0.45, 0.15, 0.18, 0.22, 0.25],
  [0, 0.40, 0.60, 0.55, 0.30, 0.30, 0.35, 0.30],
  [0, 0.20, 0.62, 0.65, 0.38, 0.35, 0.30, 0.25],
  [0, 0.35, -0.45, -0.50, 0.20, 0.15, 0.10, 0.05],
  [0, -0.45, 0.55, 0.50, 0.10, 0.08, 0.12, 0.15],
  [0, 0.50, -0.55, -0.60, -0.20, -0.25, -0.35, -0.42],
  [0, 0.20, -0.80, -0.80, -0.10, 0.00, 0.05, 0.10],
  [0, 0.25, 0.10, 0.05, -0.15, -0.20, -0.25, -0.30],
  [0, 0.10, 0.20, 0.22, 0.02, 0.05, 0.10, 0.20],
  [0, 0.40, -0.52, -0.50, -0.35, -0.40, -0.40, -0.38],
  [0, -0.30, 0.25, 0.20, 0.15, 0.10, 0.05, 0.00],
  [0, 0.15, -0.30, -0.30, -0.50, -0.45, -0.40, -0.35],
  [0, 0.90, -0.55, -0.55, 0.10, 0.12, 0.10, 0.05]
];
const xrpTicks = ['-2.00%', '-1.50%', '-1.00%', '-0.50%', '0.00%', '0.50%', '1.00%'];

// ---- styles ----
const palette = {
  r: '#c4555e', p: '#c9598f', v: '#7b63c4', b: '#4a7ec6', c: '#1c9fc0', t: '#26957a',
  o: '#c4820f', g: '#5f9016', l: '#2fc6dc', m: '#a67bd9', s: '#86b5bc', y: '#9bb628', q: '#b28aa5'
};
// one letter per model line, in the same order as the model arrays
const lineColors = [
  'rcpovpogtmvylbrocvtbrorbpglsvg',
  'tcccpotgrtrvobbprgvo',
  'goptvrrcvppobovtbglblgrc',
  'gprtbgvbporctlltpmbvoorptvcgo',
  'rgoprrpbooyctvbmtortvlrpvogtlccbvygbpl',
  'ggvrtovmccgrppotvbpbtcot',
  'brcoytcprgvvbtcpvrobrtg',
  'vscrrgotbclrvsyptgcoylvbovqocgot',
  'rprvoobpoctlpymvggtgbctblvrorp',
  'gtorbrtblptooycvsprcbrtvroppgrcty',
  'bbbotcvprpgvcroyctppovt',
  'tcvoprgtbbvoqgyovtgcroctpocppvcbbrm',
  'ttgoprvotcrvbtpcgobpmytrl'
];
const legendCorners = ['ur', 'ul', 'ur', 'ur', 'ul', 'ul', 'ur', 'ul', 'ur', 'ul', 'ul', 'ur', 'lr'];

const allModels = [btcModels, clModels, copperModels, dogeModels, ethModels, ewyModels, natgasModels,
                   qqqModels, solModels, spyModels, xagModels, xauModels, xrpModels];
const allEnsembles = [btcEnsemble, clEnsemble, copperEnsemble, dogeEnsemble, ethEnsemble, ewyEnsemble,
                      natgasEnsemble, qqqEnsemble, solEnsemble, spyEnsemble, xagEnsemble, xauEnsemble, xrpEnsemble];
const allTicks = [btcTicks, clTicks, copperTicks, dogeTicks, ethTicks, ewyTicks, natgasTicks,
                  qqqTicks, solTicks, spyTicks, xagTicks, xauTicks, xrpTicks];

// layout of the 3-column grid (plot-area corners)
const PLOT_W = 765, PLOT_H = 527, AXIS_W = 100, TITLE_H = 70, XAXIS_H = 50, PAD_R = 20;
const colLeft = [109, 998, 1886];
const rowTop = [229, 852, 1474, 2097, 2719];

const FONT = "'DejaVu Sans', sans-serif";
Chart.defaults.font.family = FONT;

function withAlpha(hex, a) {
  const n = parseInt(hex.slice(1), 16);
  return `rgba(${n >> 16}, ${(n >> 8) & 255}, ${n & 255}, ${a})`;
}

function toPoints(vals) {
  return vals.map((v, i) => ({ x: i, y: v }));
}

// background, zero line, frame and in-axes legend
function makeDecor(corner) {
  return {
    id: 'decor',
    beforeDraw(chart) {
      const a = chart.chartArea, ctx = chart.ctx;
      ctx.save();
      ctx.fillStyle = '#111827';
      ctx.fillRect(a.left, a.top, a.right - a.left, a.bottom - a.top);
      ctx.restore();
    },
    beforeDatasetsDraw(chart) {
      const a = chart.chartArea, ctx = chart.ctx;
      const y0 = chart.scales.y.getPixelForValue(0);
      ctx.save();
      ctx.strokeStyle = '#687080';
      ctx.lineWidth = 2;
      ctx.beginPath();
      ctx.moveTo(a.left, y0);
      ctx.lineTo(a.right, y0);
      ctx.stroke();
      ctx.restore();
    },
    afterDraw(chart) {
      const a = chart.chartArea, ctx = chart.ctx;
      ctx.save();
      ctx.strokeStyle = '#334155';
      ctx.lineWidth = 2;
      ctx.strokeRect(a.left, a.top, a.right - a.left, a.bottom - a.top);

      const text = 'Symbol ensemble';
      ctx.font = '18px ' + FONT;
      const tw = ctx.measureText(text).width;
      const lineLen = 41, gap = 12, pad = 14;
      const x = corner[1] === 'r' ? a.right - pad - lineLen - gap - tw : a.left + pad;
      const y = corner[0] === 'u' ? a.top + 24 : a.bottom - 24;
      ctx.strokeStyle = '#eceef2';
      ctx.lineWidth = 6;
      ctx.beginPath();
      ctx.moveTo(x, y);
      ctx.lineTo(x + lineLen, y);
      ctx.stroke();
      ctx.fillStyle = '#e5e7eb';
      ctx.textBaseline = 'middle';
      ctx.fillText(text, x + lineLen + gap, y);
      ctx.restore();
    }
  };
}

symbols.forEach((sym, i) => {
  const models = allModels[i];
  const ensemble = allEnsembles[i];
  const tickLabels = allTicks[i];
  const colors = lineColors[i];

  const box = document.createElement('div');
  box.className = 'panel';
  box.style.left = (colLeft[i % 3] - AXIS_W) + 'px';
  box.style.top = (rowTop[Math.floor(i / 3)] - TITLE_H) + 'px';
  box.style.width = (AXIS_W + PLOT_W + PAD_R) + 'px';
  box.style.height = (TITLE_H + PLOT_H + XAXIS_H) + 'px';
  const canvas = document.createElement('canvas');
  box.appendChild(canvas);
  document.body.appendChild(box);

  // matplotlib-like 5% margins
  const all = models.flat().concat(ensemble);
  const lo = Math.min(...all), hi = Math.max(...all);
  const margin = (hi - lo) * 0.05;
  const yMin = lo - margin, yMax = hi + margin;
  const tickVals = tickLabels.map(s => parseFloat(s));

  const datasets = [{
    label: 'Symbol ensemble',
    data: toPoints(ensemble),
    borderColor: '#eceef2',
    borderWidth: 6,
    order: -1
  }];
  models.forEach((vals, k) => {
    datasets.push({
      label: 'model ' + (k + 1),
      data: toPoints(vals),
      borderColor: withAlpha(palette[colors[k % colors.length]], 0.85),
      borderWidth: 2.2,
      order: 0
    });
  });

  new Chart(canvas, {
    type: 'line',
    data: { datasets: datasets },
    options: {
      responsive: true,
      maintainAspectRatio: false,
      animation: false,
      elements: {
        point: { radius: 0 },
        line: { tension: 0, fill: false, borderJoinStyle: 'round', borderCapStyle: 'round' }
      },
      layout: { padding: { left: 0, right: PAD_R, top: 0, bottom: 0 } },
      plugins: {
        legend: { display: false },
        tooltip: { enabled: false },
        title: {
          display: true,
          text: `${sym} · ${modelCounts[i]} models`,
          color: '#e5e7eb',
          fullSize: false,
          font: { size: 27, weight: 'normal', family: FONT },
          padding: { top: 32, bottom: 7 }
        }
      },
      scales: {
        x: {
          type: 'linear',
          min: -0.35,
          max: dates.length - 1 + 0.35,
          afterBuildTicks: scale => {
            scale.ticks = xTickDays.map(d => ({ value: dates.indexOf(d) }));
          },
          afterFit: scale => { scale.height = XAXIS_H; },
          ticks: {
            color: '#7d8594',
            font: { size: 21 },
            padding: 5,
            maxRotation: 0,
            autoSkip: false,
            callback: v => dates[v]
          },
          grid: {
            display: true,
            drawOnChartArea: false,
            drawTicks: true,
            tickLength: 8,
            tickWidth: 1.5,
            tickColor: '#6b7280'
          },
          border: { display: false }
        },
        y: {
          type: 'linear',
          min: yMin,
          max: yMax,
          afterBuildTicks: scale => {
            scale.ticks = tickVals.filter(v => v >= yMin && v <= yMax).map(v => ({ value: v }));
          },
          afterFit: scale => { scale.width = AXIS_W; },
          ticks: {
            color: '#7d8594',
            font: { size: 21 },
            padding: 8,
            autoSkip: false,
            callback: v => tickLabels[tickVals.findIndex(t => Math.abs(t - v) < 1e-9)]
          },
          grid: {
            color: '#1d2636',
            lineWidth: 1.5,
            drawTicks: true,
            tickLength: 8,
            tickWidth: 1.5,
            tickColor: '#6b7280'
          },
          border: { display: false }
        }
      }
    },
    plugins: [makeDecor(legendCorners[i])]
  });
});
</script>
</body>
</html>
